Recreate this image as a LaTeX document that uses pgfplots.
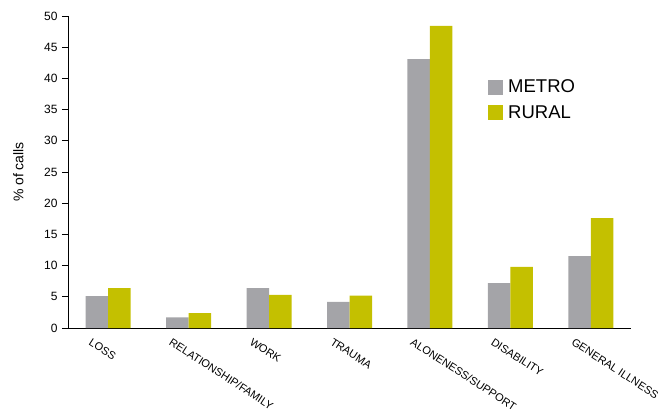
\documentclass[border=0pt]{standalone}
\usepackage{fontspec}
\setmainfont{Liberation Sans}
\usepackage{pgfplots}
\pgfplotsset{compat=1.18}

\definecolor{metro}{RGB}{164,164,168}
\definecolor{rural}{RGB}{196,192,0}

\begin{document}
\begin{tikzpicture}
\begin{axis}[
  name=ax,
  scale only axis,
  width=563pt, height=312pt,
  ybar=0pt, bar width=22.5pt,
  xmin=-0.5, xmax=6.5,
  ymin=0, ymax=50,
  axis x line*=bottom, axis y line*=left,
  axis line style={black, line width=0.9pt},
  ytick={0,5,...,50},
  xtick={0,...,6},
  xticklabels={LOSS,RELATIONSHIP/FAMILY,WORK,TRAUMA,ALONENESS/SUPPORT,DISABILITY,GENERAL ILLNESS},
  xtick style={draw=none},
  minor xtick={-0.5,0.5,...,6.5},
  minor tick length=6pt,
  minor x tick style={black, line width=0.8pt},
  tick align=outside,
  major tick length=6pt,
  ytick style={black, line width=0.8pt},
  /pgf/number format/assume math mode=true,
  yticklabel style={font=\fontsize{12}{14}\selectfont, xshift=-1pt},
  xticklabel style={font=\fontsize{11}{13}\selectfont, rotate=-33, anchor=north west,
    inner sep=0pt, xshift=-11.5pt, yshift=-11.5pt},
  ylabel={\% of calls},
  ylabel style={font=\fontsize{14}{16}\selectfont, at={(axis description cs:-0.088,0.5)}, anchor=center, rotate=0},
  legend style={at={(rel axis cs:0.746,0.802)}, anchor=north west, draw=none, fill=none,
    font=\fontsize{18.5}{20}\selectfont, row sep=7pt, inner sep=0pt,
    legend cell align=left},
  legend image code/.code={\fill[#1,draw=none] (0pt,-7.5pt) rectangle (15pt,7.5pt); \path (18pt,0pt);},
]
\addplot[fill=metro, draw=none] coordinates {
  (0,5.1) (1,1.7) (2,6.4) (3,4.2) (4,43.1) (5,7.2) (6,11.5)};
\addplot[fill=rural, draw=none] coordinates {
  (0,6.4) (1,2.4) (2,5.3) (3,5.2) (4,48.4) (5,9.8) (6,17.6)};
\legend{METRO,RURAL}
\end{axis}
\path ([shift={(-68pt,-85pt)}]ax.south west) rectangle ([shift={(600pt,328pt)}]ax.south west);
\end{tikzpicture}
\end{document}
